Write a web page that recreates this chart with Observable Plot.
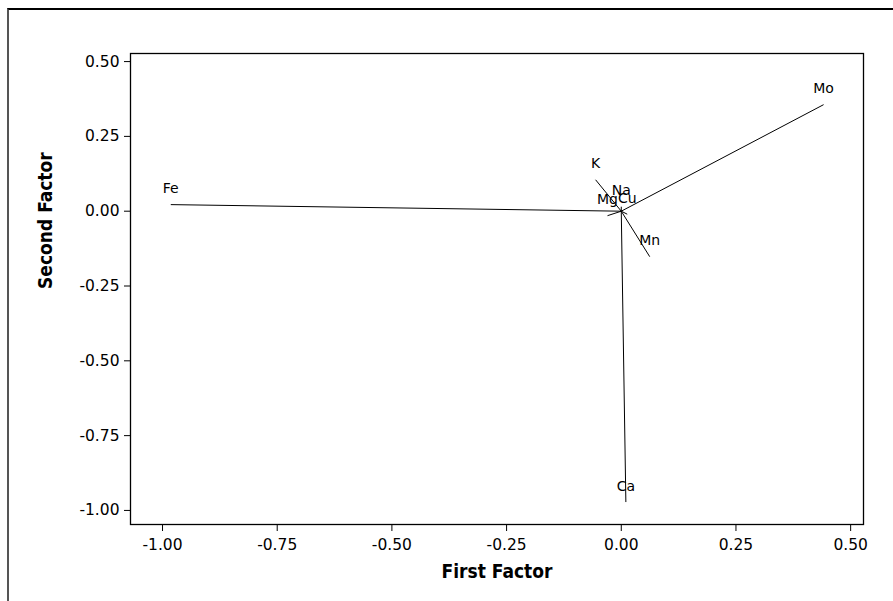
<!DOCTYPE html>
<html>
<head>
<meta charset="utf-8">
<script src="https://cdn.jsdelivr.net/npm/d3@7"></script>
<script src="https://cdn.jsdelivr.net/npm/@observablehq/plot@0.6"></script>
<style>
  html, body { margin: 0; padding: 0; background: #fff; }
  #wrap { position: relative; width: 893px; height: 601px; overflow: hidden; }
  #outer { position: absolute; left: 7px; top: 8px; width: 1000px; height: 1000px;
           border-top: 2px solid #000; border-left: 2px solid #555; pointer-events: none; }
</style>
</head>
<body>
<div id="wrap"><div id="outer"></div></div>
<script>
const variables = ["Fe", "Mo", "Ca", "K", "Mn", "Na", "Cu", "Mg"];
const firstFactor = [-0.982, 0.441, 0.01, -0.056, 0.062, 0.0, 0.013, -0.03];
const secondFactor = [0.022, 0.356, -0.972, 0.105, -0.152, 0.015, -0.01, -0.015];
const ticks = [-1.0, -0.75, -0.5, -0.25, 0.0, 0.25, 0.5];

const data = variables.map((v, i) => ({name: v, x: firstFactor[i], y: secondFactor[i]}));
const fmt = d => d.toFixed(2);
const cond = "'DejaVu Sans Condensed', 'DejaVu Sans', sans-serif";
const normal = "'DejaVu Sans', sans-serif";

const chart = Plot.plot({
  width: 893,
  height: 601,
  marginLeft: 130,
  marginRight: 30,
  marginTop: 53,
  marginBottom: 77,
  style: {fontFamily: normal, color: "#000", background: "transparent"},
  x: {domain: [-1.0698, 0.528]},
  y: {domain: [-1.047, 0.527]},
  marks: [
    Plot.frame({stroke: "#000", strokeWidth: 1.3}),
    Plot.axisX({ticks: ticks, tickFormat: fmt, tickSize: 7, tickPadding: 7, fontSize: 15.5, fontFamily: normal, label: null, stroke: "#000"}),
    Plot.axisY({ticks: ticks, tickFormat: fmt, tickSize: 6, tickPadding: 5, fontSize: 15.5, fontFamily: normal, label: null, stroke: "#000"}),
    Plot.link(data, {x1: () => 0, y1: () => 0, x2: "x", y2: "y", stroke: "#000", strokeWidth: 1}),
    Plot.text(data, {x: "x", y: "y", text: "name", dy: -16, fontSize: 14, fontFamily: normal, fill: "#000"}),
    Plot.text(["First Factor"], {frameAnchor: "bottom", dy: 53, fontSize: 19, fontFamily: cond, fontWeight: "bold", fill: "#000"}),
    Plot.text(["Second Factor"], {frameAnchor: "left", dx: -85, rotate: -90, fontSize: 19, fontFamily: cond, fontWeight: "bold", fill: "#000"})
  ]
});
chart.style.position = "absolute";
chart.style.left = "0";
chart.style.top = "0";
document.getElementById("wrap").appendChild(chart);
</script>
</body>
</html>
